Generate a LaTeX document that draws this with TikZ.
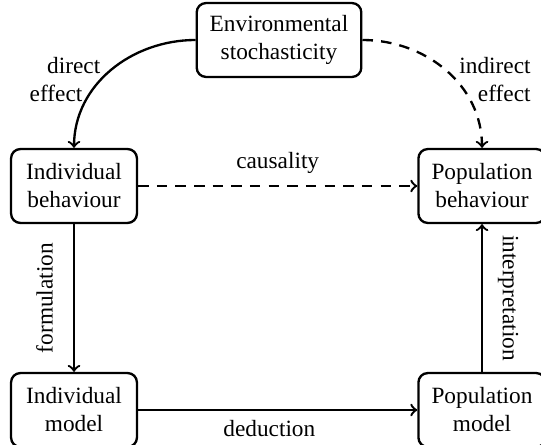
\documentclass[tikz,border=0pt]{standalone}
\usepackage{fontspec}
\setmainfont{Liberation Serif}

\begin{document}
\begin{tikzpicture}[x=0.429pt, y=-0.429pt,
    box/.style={draw, line width=1pt, rounded corners=4pt, align=center,
      minimum width=54pt, minimum height=31.7pt, inner xsep=5.6pt},
    link/.style={line width=1pt, ->},
    hint/.style={line width=1pt, ->, dash pattern=on 4.5pt off 3.5pt}]
  \useasboundingbox (0,0) rectangle (541,445);

  % the five boxes
  \node[box] (env) at (279,40) {Environmental\\stochasticity};
  \node[box] (indb) at (74,186) {Individual\\behaviour};
  \node[box] (popb) at (482,186) {Population\\behaviour};
  \node[box] (indm) at (74,410) {Individual\\model};
  \node[box] (popm) at (482,410) {Population\\model};

  % effects of the environment
  \draw[link] (env.west) to[out=180, in=90] (indb.north);
  \draw[hint] (env.east) to[out=0, in=90] (popb.north);
  \node[align=left] (direct) at (65,80) {\hspace*{7.5pt}direct\\effect};
  \node[align=right] (indirect) at (495,80) {indirect\\effect};

  % the square
  \draw[hint] (indb) -- node[above=1.5pt] (causality) {causality} (popb);
  \draw[link] (indb) -- node[midway, rotate=90, above=5.2pt] (formulation) {formulation} (indm);
  \draw[link] (indm) -- node[pos=0.47, below=2pt, inner ysep=2pt] (deduction) {deduction} (popm);
  \draw[link] (popm) -- node[midway, rotate=-90, above=3pt] (interpretation) {interpretation} (popb);
\end{tikzpicture}
\end{document}
